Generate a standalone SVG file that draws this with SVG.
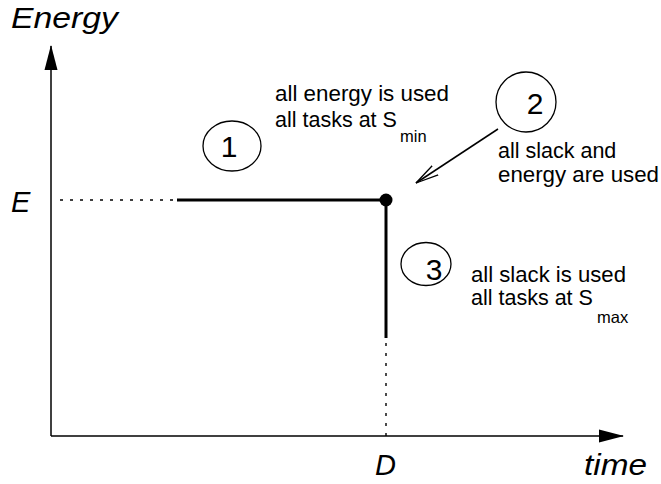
<svg xmlns="http://www.w3.org/2000/svg" width="661" height="484" viewBox="0 0 661 484">
  <style>
    .lbl { font-family: "Liberation Sans", Arial, sans-serif; font-size: 21.5px; fill: #000; }
    .sub { font-family: "Liberation Sans", Arial, sans-serif; font-size: 16.5px; fill: #000; }
    .ax { font-family: "Liberation Sans", Arial, sans-serif; font-size: 29px; font-style: italic; fill: #000; }
    .num { font-family: "Liberation Sans", Arial, sans-serif; font-size: 30px; fill: #000; text-anchor: middle; }
    .ring { fill: none; stroke: #000; stroke-width: 1.3; }
    .thin { stroke: #000; stroke-width: 1.5; fill: none; }
    .thick { stroke: #000; stroke-width: 3; fill: none; }
    .dot { stroke: #000; stroke-width: 1.4; stroke-dasharray: 3 7; fill: none; }
  </style>
  <defs>
    <marker id="solidHead" markerWidth="25" markerHeight="14" refX="24" refY="7" orient="auto" markerUnits="userSpaceOnUse">
      <path d="M0,0.5 L25,7 L0,13.5 Z" fill="#000"/>
    </marker>
    <marker id="openHead" markerWidth="24" markerHeight="16" refX="23" refY="8" orient="auto" markerUnits="userSpaceOnUse">
      <path d="M0,2.5 L23,8 L0,13.5" fill="none" stroke="#000" stroke-width="1.3"/>
    </marker>
  </defs>

  <!-- axes and their labels -->
  <g id="axes">
    <line class="thin" x1="51" y1="436" x2="51" y2="46" marker-end="url(#solidHead)"/>
    <line class="thin" x1="51" y1="436" x2="623" y2="436" marker-end="url(#solidHead)"/>
    <text class="ax" x="11" y="28" textLength="107" lengthAdjust="spacingAndGlyphs">Energy</text>
    <text class="ax" x="11" y="212">E</text>
    <text class="ax" x="375" y="475">D</text>
    <text class="ax" x="584" y="475" textLength="63" lengthAdjust="spacingAndGlyphs">time</text>
  </g>

  <!-- energy/time curve, guide lines and pointer -->
  <g id="connectors">
    <line class="dot" x1="60" y1="200" x2="176" y2="200"/>
    <line class="thick" x1="177" y1="200" x2="386" y2="200"/>
    <line class="thick" x1="386" y1="200" x2="386" y2="338"/>
    <line class="dot" x1="386" y1="343" x2="386" y2="436"/>
    <line class="thin" stroke-width="1.3" x1="498" y1="129" x2="416" y2="183" marker-end="url(#openHead)"/>
  </g>

  <g id="point">
    <circle cx="386" cy="200" r="6.5" fill="#000"/>
  </g>

  <g id="region1">
    <ellipse class="ring" cx="232" cy="146" rx="29" ry="25"/>
    <text class="num" x="229" y="157">1</text>
    <text class="lbl" x="275" y="101" textLength="174" lengthAdjust="spacingAndGlyphs">all energy is used</text>
    <text class="lbl" x="275" y="127">all tasks at S</text>
    <text class="sub" x="400" y="142">min</text>
  </g>

  <g id="region2">
    <circle class="ring" cx="526" cy="102" r="30"/>
    <text class="num" x="535" y="114">2</text>
    <text class="lbl" x="498" y="158">all slack and</text>
    <text class="lbl" x="498" y="182" textLength="161" lengthAdjust="spacingAndGlyphs">energy are used</text>
  </g>

  <g id="region3">
    <ellipse class="ring" cx="426" cy="264" rx="25" ry="21.5"/>
    <text class="num" x="434" y="280">3</text>
    <text class="lbl" x="471" y="282" textLength="155" lengthAdjust="spacingAndGlyphs">all slack is used</text>
    <text class="lbl" x="471" y="305">all tasks at S</text>
    <text class="sub" x="597" y="323">max</text>
  </g>
</svg>
